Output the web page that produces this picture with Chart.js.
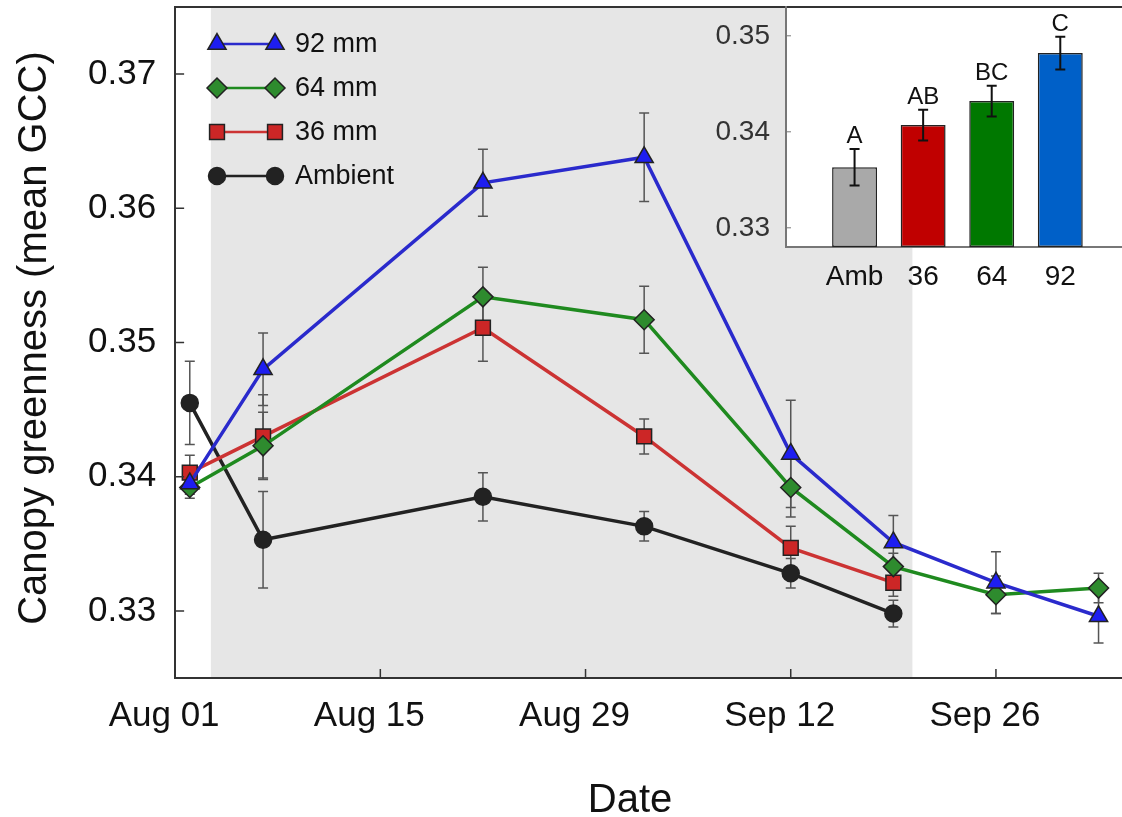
<!DOCTYPE html>
<html>
<head>
<meta charset="utf-8">
<script src="https://cdn.jsdelivr.net/npm/chart.js@4.4.1/dist/chart.umd.min.js"></script>
<style>
  html, body { margin: 0; padding: 0; background: #fff; }
  #wrap { position: relative; width: 1122px; height: 817px; }
  #main { position: absolute; left: 0; top: 0; }
  #inset { position: absolute; left: 690px; top: 0; }
</style>
</head>
<body>
<div id="wrap">
  <canvas id="main" width="1122" height="817"></canvas>
  <canvas id="inset" width="432" height="320"></canvas>
</div>
<script>
var family = "'Liberation Sans', Arial, sans-serif";

// days after Aug 01
var days = [1, 6, 21, 32, 42, 49, 56, 63];
var xTickVals = [0, 14, 28, 42, 56];
var xTickLabels = ['Aug 01', 'Aug 15', 'Aug 29', 'Sep 12', 'Sep 26'];
var yTickVals = [0.33, 0.34, 0.35, 0.36, 0.37];
var yTickLabels = ['0.33', '0.34', '0.35', '0.36', '0.37'];
var shadeStart = 2.44, shadeEnd = 50.3;   // treatment period (days)

var gcc92 = [0.3395, 0.3480, 0.3619, 0.3638, 0.3417, 0.3351, 0.3321, 0.3296];
var err92 = [0.0008, 0.0027, 0.0025, 0.0033, 0.0040, 0.0020, 0.0023, 0.0020];
var gcc64 = [0.3392, 0.3423, 0.3534, 0.3517, 0.3392, 0.3333, 0.3312, 0.3317];
var err64 = [0.0008, 0.0025, 0.0022, 0.0025, 0.0022, 0.0010, 0.0014, 0.0011];
var gcc36 = [0.3403, 0.3430, 0.3511, 0.3430, 0.3347, 0.3321];
var err36 = [0.0013, 0.0031, 0.0025, 0.0013, 0.0016, 0.0010];
var gccAmb = [0.3455, 0.3353, 0.3385, 0.3363, 0.3328, 0.3298];
var errAmb = [0.0031, 0.0036, 0.0018, 0.0011, 0.0011, 0.0010];

// inset: seasonal means
var barLabels = ['Amb', '36', '64', '92'];
var barPos = [1, 2, 3, 4];
var barMeans = [0.3363, 0.3407, 0.3432, 0.3482];
var barErr = [0.0019, 0.0016, 0.0016, 0.0017];
var barLetters = ['A', 'AB', 'BC', 'C'];
var insetTickVals = [0.33, 0.34, 0.35];
var insetTickLabels = ['0.33', '0.34', '0.35'];

function pts(vals) {
  return vals.map(function(v, i) { return {x: days[i], y: v}; });
}

var series = [
  {label: '92 mm', vals: gcc92, errs: err92, line: '#2a2acc', fill: '#1e1ef0', style: 'triangle', r: 10.5},
  {label: '64 mm', vals: gcc64, errs: err64, line: '#1f8a1f', fill: '#2e8b2e', style: 'rectRot', r: 10},
  {label: '36 mm', vals: gcc36, errs: err36, line: '#cc3333', fill: '#cc2626', style: 'rect', r: 10.5},
  {label: 'Ambient', vals: gccAmb, errs: errAmb, line: '#222222', fill: '#222222', style: 'circle', r: 8.5}
];

function marker(ctx, style, x, y, r) {
  ctx.beginPath();
  if (style === 'circle') {
    ctx.arc(x, y, r, 0, Math.PI * 2);
  } else if (style === 'triangle') {
    var a = 0;
    for (var k = 0; k < 3; k++) {
      var px = x + Math.sin(a) * r, py = y - Math.cos(a) * r;
      if (k === 0) ctx.moveTo(px, py); else ctx.lineTo(px, py);
      a += Math.PI * 2 / 3;
    }
    ctx.closePath();
  } else if (style === 'rect') {
    var s = Math.SQRT1_2 * r;
    ctx.rect(x - s, y - s, 2 * s, 2 * s);
  } else {
    ctx.moveTo(x - r, y); ctx.lineTo(x, y - r); ctx.lineTo(x + r, y); ctx.lineTo(x, y + r);
    ctx.closePath();
  }
  ctx.fill();
  ctx.stroke();
}

var mainDecor = {
  id: 'mainDecor',
  beforeDraw: function(chart) {
    var ctx = chart.ctx, a = chart.chartArea, x = chart.scales.x;
    var x0 = x.getPixelForValue(shadeStart), x1 = x.getPixelForValue(shadeEnd);
    ctx.save();
    ctx.fillStyle = '#e6e6e6';
    ctx.fillRect(x0, a.top, x1 - x0, a.bottom - a.top);
    ctx.restore();
  },
  beforeDatasetsDraw: function(chart) {
    var ctx = chart.ctx, x = chart.scales.x, y = chart.scales.y;
    ctx.save();
    ctx.strokeStyle = '#555';
    ctx.lineWidth = 1.5;
    chart.data.datasets.forEach(function(ds) {
      ds.data.forEach(function(p, i) {
        var px = x.getPixelForValue(p.x);
        var yt = y.getPixelForValue(p.y + ds.errors[i]);
        var yb = y.getPixelForValue(p.y - ds.errors[i]);
        ctx.beginPath();
        ctx.moveTo(px, yt); ctx.lineTo(px, yb);
        ctx.moveTo(px - 5, yt); ctx.lineTo(px + 5, yt);
        ctx.moveTo(px - 5, yb); ctx.lineTo(px + 5, yb);
        ctx.stroke();
      });
    });
    ctx.restore();
  },
  afterDraw: function(chart) {
    var ctx = chart.ctx, a = chart.chartArea, x = chart.scales.x, y = chart.scales.y;
    ctx.save();
    // inward ticks
    ctx.strokeStyle = '#333';
    ctx.lineWidth = 1.5;
    ctx.beginPath();
    yTickVals.forEach(function(v) {
      var py = y.getPixelForValue(v);
      ctx.moveTo(a.left, py); ctx.lineTo(a.left + 9, py);
    });
    xTickVals.forEach(function(v) {
      var px = x.getPixelForValue(v);
      ctx.moveTo(px, a.bottom); ctx.lineTo(px, a.bottom - 9);
    });
    ctx.stroke();
    // top frame line
    ctx.lineWidth = 2;
    ctx.beginPath();
    ctx.moveTo(a.left - 1, a.top); ctx.lineTo(a.right, a.top);
    ctx.stroke();

    // legend
    ctx.font = '27px ' + family;
    ctx.textBaseline = 'middle';
    ctx.textAlign = 'left';
    series.forEach(function(s, i) {
      var ly = 44 + i * 44;
      ctx.strokeStyle = s.line;
      ctx.lineWidth = 2.5;
      ctx.beginPath();
      ctx.moveTo(217, ly); ctx.lineTo(275, ly);
      ctx.stroke();
      ctx.fillStyle = s.fill;
      ctx.strokeStyle = '#222';
      ctx.lineWidth = 1.5;
      marker(ctx, s.style, 217, ly, s.r);
      marker(ctx, s.style, 275, ly, s.r);
      ctx.fillStyle = '#111';
      ctx.fillText(s.label, 295, ly + 1);
    });

    // axis titles
    ctx.fillStyle = '#111';
    ctx.font = '40px ' + family;
    ctx.textAlign = 'center';
    ctx.textBaseline = 'alphabetic';
    ctx.fillText('Date', 630, 812);
    ctx.translate(46, 338);
    ctx.rotate(-Math.PI / 2);
    ctx.fillText('Canopy greenness (mean GCC)', 0, 0);
    ctx.restore();
  }
};

var mainChart = new Chart(document.getElementById('main'), {
  type: 'line',
  data: {
    datasets: series.map(function(s, i) {
      return {
        label: s.label,
        data: pts(s.vals),
        errors: s.errs,
        borderColor: s.line,
        borderWidth: 3.5,
        pointStyle: s.style,
        pointRadius: s.r,
        pointBackgroundColor: s.fill,
        pointBorderColor: '#222',
        pointBorderWidth: 1.5,
        fill: false,
        tension: 0,
        order: i
      };
    })
  },
  options: {
    responsive: false,
    animation: false,
    layout: {autoPadding: false, padding: {left: 69, top: 7, right: 0, bottom: 63}},
    plugins: {legend: {display: false}, tooltip: {enabled: false}},
    scales: {
      x: {
        type: 'linear', min: 0, max: 64.6,
        afterBuildTicks: function(s) { s.ticks = xTickVals.map(function(v) { return {value: v}; }); },
        ticks: {
          callback: function(v) { return xTickLabels[xTickVals.indexOf(v)]; },
          font: {size: 35, family: family}, color: '#111',
          padding: 17, labelOffset: -11, maxRotation: 0, autoSkip: false
        },
        grid: {drawOnChartArea: false, drawTicks: false},
        border: {display: true, color: '#333', width: 2}
      },
      y: {
        min: 0.325, max: 0.375,
        afterBuildTicks: function(s) { s.ticks = yTickVals.map(function(v) { return {value: v}; }); },
        afterFit: function(s) { s.paddingTop = 0; s.paddingBottom = 0; },
        ticks: {
          callback: function(v) { return yTickLabels[yTickVals.indexOf(v)]; },
          font: {size: 35, family: family}, color: '#111', padding: 19
        },
        grid: {drawOnChartArea: false, drawTicks: false},
        border: {display: true, color: '#333', width: 2}
      }
    }
  },
  plugins: [mainDecor]
});

var insetDecor = {
  id: 'insetDecor',
  beforeDraw: function(chart) {
    var ctx = chart.ctx, a = chart.chartArea;
    ctx.save();
    ctx.fillStyle = '#fff';
    ctx.fillRect(a.left, a.top + 1, a.right - a.left, a.bottom - a.top - 1);
    ctx.restore();
  },
  afterDatasetsDraw: function(chart) {
    var ctx = chart.ctx, a = chart.chartArea, x = chart.scales.x, y = chart.scales.y;
    ctx.save();
    ctx.strokeStyle = '#111';
    ctx.lineWidth = 2;
    ctx.fillStyle = '#111';
    ctx.font = '24px ' + family;
    ctx.textAlign = 'center';
    ctx.textBaseline = 'alphabetic';
    barPos.forEach(function(p, i) {
      var px = x.getPixelForValue(p);
      var yt = y.getPixelForValue(barMeans[i] + barErr[i]);
      var yb = y.getPixelForValue(barMeans[i] - barErr[i]);
      ctx.beginPath();
      ctx.moveTo(px, yt); ctx.lineTo(px, yb);
      ctx.moveTo(px - 5, yt); ctx.lineTo(px + 5, yt);
      ctx.moveTo(px - 5, yb); ctx.lineTo(px + 5, yb);
      ctx.stroke();
      ctx.fillText(barLetters[i], px, yt - 6);
    });
    ctx.strokeStyle = '#777';
    ctx.lineWidth = 1;
    ctx.beginPath();
    insetTickVals.forEach(function(v) {
      var py = y.getPixelForValue(v);
      ctx.moveTo(a.left, py); ctx.lineTo(a.left + 5, py);
    });
    ctx.stroke();
    ctx.restore();
  }
};

var insetChart = new Chart(document.getElementById('inset'), {
  type: 'bar',
  data: {
    datasets: [{
      data: barPos.map(function(p, i) { return {x: p, y: barMeans[i]}; }),
      backgroundColor: ['#a9a9a9', '#c00000', '#007800', '#0060c8'],
      borderColor: '#222',
      borderWidth: 1.5,
      borderSkipped: false,
      base: 0.328,
      barPercentage: 0.655,
      categoryPercentage: 1
    }]
  },
  options: {
    responsive: false,
    animation: false,
    layout: {autoPadding: false, padding: {left: 9.5, top: 7, right: 0, bottom: 13.4}},
    plugins: {legend: {display: false}, tooltip: {enabled: false}},
    scales: {
      x: {
        type: 'linear', min: 0, max: 4.9, offset: false,
        afterBuildTicks: function(s) { s.ticks = barPos.map(function(v) { return {value: v}; }); },
        ticks: {
          callback: function(v) { return barLabels[barPos.indexOf(v)]; },
          font: {size: 28, family: family}, color: '#111', padding: 13,
          maxRotation: 0, autoSkip: false
        },
        grid: {drawOnChartArea: false, drawTicks: false, offset: false},
        border: {display: true, color: '#777', width: 2}
      },
      y: {
        min: 0.328, max: 0.353,
        afterBuildTicks: function(s) { s.ticks = insetTickVals.map(function(v) { return {value: v}; }); },
        afterFit: function(s) { s.paddingTop = 0; s.paddingBottom = 0; },
        ticks: {
          callback: function(v) { return insetTickLabels[insetTickVals.indexOf(v)]; },
          font: {size: 28, family: family}, color: '#333', padding: 16
        },
        grid: {drawOnChartArea: false, drawTicks: false},
        border: {display: true, color: '#777', width: 2}
      }
    }
  },
  plugins: [insetDecor]
});
</script>
</body>
</html>
